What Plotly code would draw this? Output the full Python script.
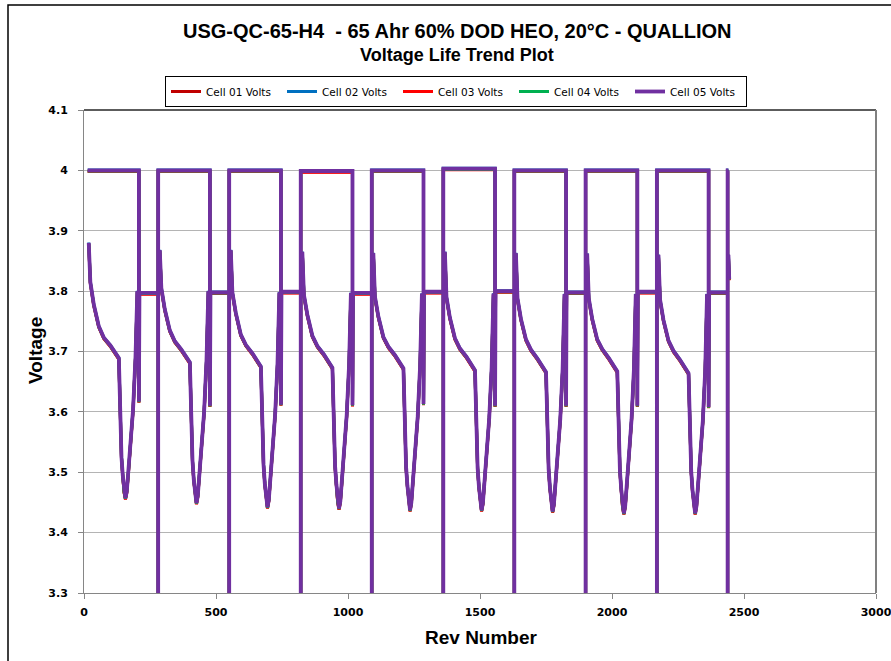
import plotly.graph_objects as go

# ---------------- data ----------------
cell_names = ["Cell 01 Volts", "Cell 02 Volts", "Cell 03 Volts", "Cell 04 Volts", "Cell 05 Volts"]
cell_colors = ["#C00000", "#0070C0", "#FF0000", "#00B050", "#7030A0"]
cell_offset_v = [-0.0015, 0.0005, -0.002, -0.001, 0.0]   # small per-cell deviation

# rev number where each cycle begins (first is the virtual start of data)
cycle_start_rev = [12, 281, 550, 821, 1090, 1361, 1630, 1900, 2170, 2438]
first_rev = 14
last_rev = 2441
cutoff_v = 3.0            # drop at each cycle change (below the axis)

charge_plateau_v = [4.000, 4.000, 4.000, 3.999, 4.000, 4.003, 4.000, 4.000, 4.000]
hold_plateau_v = [3.797, 3.798, 3.799, 3.797, 3.799, 3.800, 3.798, 3.799, 3.798]
charge_drop_v = [3.617, 3.610, 3.612, 3.611, 3.613, 3.610, 3.610, 3.610, 3.608]
charge_end_offset = 196
hold_start_offset = 198

# discharge trend: rev offsets after cycle start and voltages per cycle
discharge_offsets = [6, 12, 25, 44, 63, 88, 120, 124, 130, 135, 140, 145, 150, 155, 160, 174, 183, 190]
discharge_v = [
    [3.880, 3.815, 3.778, 3.742, 3.723, 3.710, 3.689, 3.610, 3.525, 3.494, 3.468, 3.457, 3.468, 3.494, 3.525, 3.605, 3.690, 3.800],
    [3.868, 3.805, 3.770, 3.735, 3.717, 3.703, 3.682, 3.602, 3.519, 3.487, 3.461, 3.449, 3.461, 3.487, 3.519, 3.600, 3.685, 3.800],
    [3.868, 3.798, 3.764, 3.728, 3.711, 3.697, 3.675, 3.596, 3.513, 3.481, 3.454, 3.442, 3.454, 3.481, 3.513, 3.596, 3.680, 3.798],
    [3.865, 3.794, 3.761, 3.726, 3.709, 3.695, 3.673, 3.594, 3.511, 3.480, 3.452, 3.440, 3.452, 3.480, 3.511, 3.594, 3.677, 3.797],
    [3.863, 3.791, 3.758, 3.724, 3.708, 3.694, 3.672, 3.592, 3.509, 3.478, 3.450, 3.437, 3.450, 3.478, 3.509, 3.592, 3.675, 3.796],
    [3.865, 3.790, 3.756, 3.722, 3.705, 3.691, 3.669, 3.590, 3.507, 3.476, 3.449, 3.437, 3.449, 3.476, 3.507, 3.590, 3.673, 3.796],
    [3.863, 3.788, 3.754, 3.720, 3.703, 3.688, 3.666, 3.588, 3.505, 3.474, 3.447, 3.435, 3.447, 3.474, 3.505, 3.588, 3.671, 3.795],
    [3.862, 3.788, 3.754, 3.720, 3.704, 3.689, 3.667, 3.587, 3.503, 3.472, 3.444, 3.432, 3.444, 3.472, 3.503, 3.587, 3.670, 3.795],
    [3.860, 3.786, 3.752, 3.718, 3.701, 3.686, 3.664, 3.585, 3.502, 3.470, 3.444, 3.432, 3.444, 3.470, 3.502, 3.585, 3.668, 3.795],
]
last_offsets = [3, 6]
last_v = [3.860, 3.820]

y_tick_vals = [3.3, 3.4, 3.5, 3.6, 3.7, 3.8, 3.9, 4.0, 4.1]
y_tick_text = ["3.3", "3.4", "3.5", "3.6", "3.7", "3.8", "3.9", "4", "4.1"]
x_tick_vals = [0, 500, 1000, 1500, 2000, 2500, 3000]

title_main = "USG-QC-65-H4  - 65 Ahr 60% DOD HEO, 20°C - QUALLION"
title_sub = "Voltage Life Trend Plot"
x_title = "Rev Number"
y_title = "Voltage"


def build_series(dv):
    xs, ys = [], []
    n = len(charge_plateau_v)
    # charge / hold path
    for k in range(n):
        b = cycle_start_rev[k]
        if k == 0:
            xs += [first_rev]
            ys += [charge_plateau_v[k] + dv]
        else:
            xs += [b, b]
            ys += [cutoff_v, charge_plateau_v[k] + dv]
        xs += [b + charge_end_offset, b + charge_end_offset, b + hold_start_offset, cycle_start_rev[k + 1]]
        ys += [charge_plateau_v[k] + dv, charge_drop_v[k] + dv, hold_plateau_v[k] + dv, hold_plateau_v[k] + dv]
    b = cycle_start_rev[-1]
    xs += [b, b, last_rev, None]
    ys += [cutoff_v, charge_plateau_v[0] + dv, charge_plateau_v[0] + dv, None]
    # discharge path
    for k in range(n):
        b = cycle_start_rev[k]
        xs += [b + o for o in discharge_offsets] + [None]
        ys += [v + dv for v in discharge_v[k]] + [None]
    b = cycle_start_rev[-1]
    xs += [b + o for o in last_offsets]
    ys += [v + dv for v in last_v]
    return xs, ys


fig = go.Figure()
for i, name in enumerate(cell_names):
    xs, ys = build_series(cell_offset_v[i])
    fig.add_trace(go.Scatter(
        x=xs, y=ys, mode="lines", name=name,
        line=dict(color=cell_colors[i], width=3.8 if i == 4 else 3.0),
        connectgaps=False,
    ))

W, H = 891, 661
L, R, T, B = 84, 15, 110, 68
pw, ph = W - L - R, H - T - B


def px(xp):
    return (xp - L) / pw


def py(yp):
    return (H - B - yp) / ph


tick_font = dict(family="DejaVu Sans", size=11, color="#000000", weight="bold")

fig.update_layout(
    width=W, height=H,
    margin=dict(l=L, r=R, t=T, b=B, pad=0, autoexpand=False),
    paper_bgcolor="white", plot_bgcolor="white",
    showlegend=True,
    legend=dict(
        orientation="h", x=px(456), xanchor="center", y=py(76), yanchor="top",
        bordercolor="#000000", borderwidth=1,
        font=dict(family="DejaVu Sans", size=10.5, color="#000000"),
        entrywidth=71, entrywidthmode="pixels",
        itemwidth=30, tracegroupgap=0,
    ),
    xaxis=dict(
        range=[0, 3000], tickvals=x_tick_vals, ticks="outside", ticklen=5,
        tickcolor="#868686", showline=True, linecolor="#868686", linewidth=1,
        showgrid=False, zeroline=False, tickfont=tick_font, ticklabelstandoff=4,
        ticklabeloverflow="allow",
    ),
    yaxis=dict(
        range=[3.3, 4.1], tickvals=y_tick_vals, ticktext=y_tick_text,
        ticks="outside", ticklen=5, tickcolor="#868686",
        showline=True, linecolor="#868686", linewidth=1,
        showgrid=True, gridcolor="#B4B4B4", gridwidth=1, zeroline=False,
        tickfont=tick_font, ticklabelstandoff=8, ticklabeloverflow="allow",
    ),
    annotations=[
        dict(text=title_main, x=px(457), y=py(31), xref="paper", yref="paper",
             showarrow=False, xanchor="center", yanchor="middle",
             font=dict(family="Liberation Sans", size=20, color="#000000", weight="bold")),
        dict(text=title_sub, x=px(457), y=py(55), xref="paper", yref="paper",
             showarrow=False, xanchor="center", yanchor="middle",
             font=dict(family="Liberation Sans", size=18, color="#000000", weight="bold")),
        dict(text=x_title, x=px(481), y=py(637), xref="paper", yref="paper",
             showarrow=False, xanchor="center", yanchor="middle",
             font=dict(family="Liberation Sans", size=19, color="#000000", weight="bold")),
        dict(text=y_title, x=px(35), y=py(351), xref="paper", yref="paper",
             showarrow=False, xanchor="center", yanchor="middle", textangle=-90,
             font=dict(family="Liberation Sans", size=19, color="#000000", weight="bold")),
    ],
    shapes=[
        dict(type="line", xref="paper", yref="paper", x0=0, x1=1, y0=1, y1=1,
             line=dict(color="#262626", width=1.5)),
        dict(type="line", xref="paper", yref="paper", x0=1, x1=1, y0=0, y1=1,
             line=dict(color="#808080", width=2)),
        dict(type="rect", xref="paper", yref="paper", x0=px(8), x1=px(900),
             y0=py(670), y1=py(5), line=dict(color="#000000", width=1.5),
             fillcolor="rgba(0,0,0,0)"),
    ],
)

fig.write_html(
    "out.html",
    config={"displayModeBar": False},
    post_script="document.body.style.margin='0';document.body.style.overflow='hidden';",
)
